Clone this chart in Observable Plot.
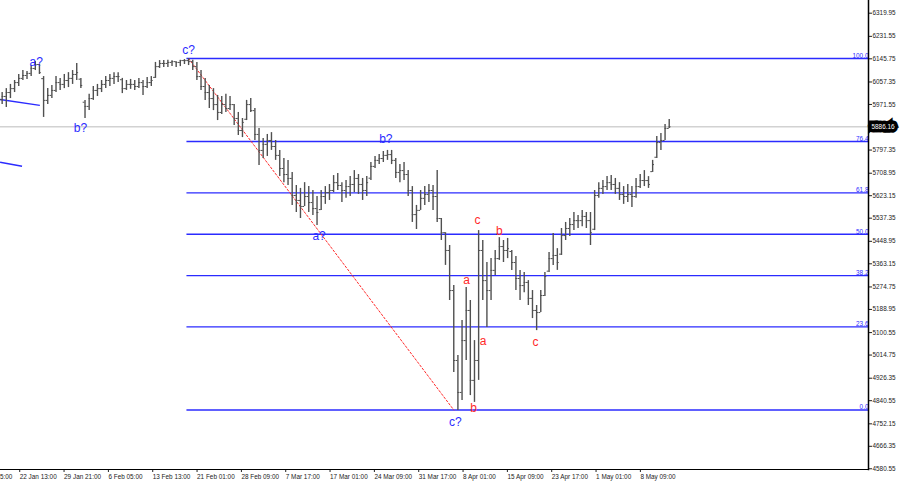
<!DOCTYPE html>
<html>
<head>
<meta charset="utf-8">
<script src="https://cdn.jsdelivr.net/npm/d3@7"></script>
<script src="https://cdn.jsdelivr.net/npm/@observablehq/plot@0.6"></script>
<style>
  html, body { margin: 0; padding: 0; background: #fff; overflow: hidden; }
  #chart svg { display: block; }
</style>
</head>
<body>
<div id="chart"></div>
<script>
// ---- OHLC bars (each bar = 12 trading hours) ----
const barOpen = [5990,6002,6017,6032,6055,6071,6082,6090,6109,6124,
6070,5987,6006,6025,6055,6048,6063,6071,6086,6068,
5980,5964,5994,6025,6032,6048,6063,6071,6078,6066,
6032,6048,6048,6040,6055,6040,6055,6075,6116,6128,
6128,6132,6135,6132,6139,6139,6135,6116,6078,6040,
6017,5994,5971,5941,5971,5956,5971,5918,5872,5915,
5971,5948,5857,5796,5819,5834,5811,5777,5727,5704,
5689,5624,5605,5582,5620,5597,5574,5570,5620,5635,
5643,5673,5662,5643,5658,5666,5689,5666,5643,5690,
5735,5758,5765,5777,5780,5758,5712,5719,5704,5643,
5551,5567,5613,5628,5643,5620,5536,5482,5414,5261,
4994,4872,5070,5185,4918,4994,5414,5299,5261,5338,
5383,5429,5414,5410,5368,5307,5280,5292,5231,5185,
5177,5242,5335,5383,5395,5400,5471,5498,5513,5528,
5528,5544,5528,5495,5624,5651,5658,5673,5666,5651,
5628,5620,5628,5620,5658,5681,5681,5715,5770,5826,
5834,5880];
const barHigh = [6017,6032,6048,6063,6086,6101,6097,6120,6135,6124,
6078,6032,6044,6078,6071,6086,6093,6101,6128,6071,
5987,6010,6040,6048,6063,6078,6086,6093,6093,6071,
6063,6067,6063,6071,6063,6074,6078,6132,6139,6139,
6140,6138,6135,6140,6143,6147,6140,6132,6101,6071,
6044,6032,6006,6002,6010,6002,5971,5941,5918,5987,
5994,5956,5880,5842,5857,5864,5834,5796,5765,5758,
5712,5662,5651,5673,5658,5643,5620,5643,5658,5666,
5700,5708,5673,5681,5696,5719,5704,5689,5696,5750,
5773,5780,5792,5796,5796,5765,5742,5750,5719,5658,
5586,5643,5658,5666,5662,5719,5536,5482,5433,5280,
5013,5147,5273,5223,5070,5490,5452,5368,5383,5414,
5463,5452,5460,5414,5391,5338,5330,5299,5261,5204,
5261,5330,5406,5479,5421,5498,5521,5536,5559,5548,
5567,5559,5559,5643,5673,5681,5696,5700,5689,5673,
5658,5666,5658,5689,5704,5719,5696,5758,5849,5861,
5895,5914];
const barLow = [5971,5960,5994,6017,6040,6063,6067,6078,6101,6086,
5922,5971,5994,6017,6025,6032,6036,6048,6063,6032,
5918,5948,5987,6002,6017,6032,6040,6048,6055,6013,
6025,6029,6025,6032,6006,6032,6040,6071,6109,6113,
6113,6116,6113,6116,6124,6120,6101,6063,6025,5987,
5956,5948,5910,5933,5941,5948,5891,5853,5845,5910,
5941,5834,5738,5765,5773,5796,5758,5696,5673,5662,
5586,5559,5536,5582,5559,5548,5509,5567,5590,5605,
5635,5643,5597,5613,5620,5635,5628,5605,5620,5681,
5727,5742,5750,5758,5742,5689,5673,5681,5620,5521,
5494,5567,5586,5597,5567,5521,5452,5357,5223,4948,
4803,4841,4994,4860,4834,4918,5223,5120,5223,5318,
5376,5368,5383,5338,5261,5223,5253,5204,5154,5108,
5177,5238,5330,5357,5338,5395,5452,5467,5490,5498,
5505,5498,5433,5490,5613,5628,5643,5643,5628,5605,
5590,5597,5578,5613,5651,5658,5651,5712,5765,5796,
5834,5880];
const barClose = [6002,6017,6032,6055,6071,6082,6090,6109,6124,6093,
5987,6006,6025,6055,6048,6063,6071,6086,6093,6044,
5964,5994,6025,6032,6048,6063,6071,6078,6078,6032,
6048,6048,6040,6055,6040,6055,6063,6116,6128,6128,
6132,6135,6132,6139,6139,6135,6116,6078,6040,6017,
5994,5971,5941,5971,5956,5971,5918,5872,5903,5971,
5948,5857,5796,5819,5834,5811,5777,5727,5704,5689,
5624,5605,5582,5620,5597,5574,5559,5620,5635,5643,
5673,5662,5643,5658,5666,5689,5666,5643,5673,5735,
5758,5765,5777,5780,5758,5712,5719,5704,5643,5551,
5567,5613,5628,5643,5620,5536,5482,5414,5261,4994,
4872,5070,5185,4918,4994,5414,5299,5261,5338,5383,
5429,5414,5421,5368,5307,5280,5292,5231,5185,5177,
5242,5315,5383,5395,5368,5471,5498,5513,5528,5528,
5544,5528,5482,5624,5651,5658,5673,5666,5651,5628,
5620,5628,5620,5658,5681,5681,5666,5742,5826,5834,
5880,5886.16];

// ---- axes ----
const xTickIdx = [-6.7, 4.0, 14.7, 25.4, 36.1, 46.8, 57.5, 68.2, 78.9, 89.6, 100.3, 111.0, 121.7, 132.4, 143.1, 153.8];
const xTickLabels = ["15 Jan 05:00","22 Jan 13:00","29 Jan 21:00","6 Feb 05:00","13 Feb 13:00","21 Feb 01:00","28 Feb 09:00","7 Mar 17:00","17 Mar 01:00","24 Mar 09:00","31 Mar 17:00","8 Apr 01:00","15 Apr 09:00","23 Apr 17:00","1 May 01:00","8 May 09:00"];
const yTicks = [6319.95, 6231.55, 6145.75, 6057.35, 5971.55, 5797.35, 5708.95, 5623.15, 5537.35, 5448.95, 5363.15, 5274.75, 5188.95, 5100.55, 5014.75, 4926.35, 4840.55, 4752.15, 4666.35, 4580.55];

// ---- Fibonacci grid ----
const fibPct = ["0.0", "23.6", "38.2", "50.0", "61.8", "76.4", "100.0"];
const fibPrice = [4805, 5122, 5318, 5476, 5634, 5830, 6147];
const fibStartIdx = 44.6;

// ---- red dotted line (c? top to c? bottom) ----
const dotIdx = [45, 109];
const dotPrice = [6147, 4805];

// ---- old blue trendlines at the left edge ----
const trendX1 = [-0.5, -0.5];
const trendY1 = [5990, 5751];
const trendX2 = [9.1, 4.8];
const trendY2 = [5968, 5736];

// ---- wave labels ----
const blueText = ["a?", "b?", "c?", "a?", "b?", "c?"];
const blueIdx = [8.2, 18.9, 45.0, 76.5, 92.6, 109.4];
const bluePrice = [6132, 5880, 6177, 5467, 5838, 4757];
const redText = ["c", "b", "a", "a", "b", "c"];
const redIdx = [114.7, 120.0, 112.1, 116.1, 113.8, 128.7];
const redPrice = [5530, 5486, 5299, 5068, 4811, 5063];

const lastPrice = 5886.16;

const xDomain = [-0.4, 209.1];
const yDomain = [4577.8, 6368.4];
const BLUE = "#2b2bff";
const RED = "#ff2a2a";
const BAR = "#505050";

const bars = barClose.map((c, i) => ({i, o: barOpen[i], h: barHigh[i], l: barLow[i], c}));
const fibRows = fibPrice.map((p, k) => ({p, t: fibPct[k]}));
const trends = trendX1.map((x, k) => ({x1: x, y1: trendY1[k], x2: trendX2[k], y2: trendY2[k]}));
const dotRows = dotIdx.map((x, k) => ({x, y: dotPrice[k]}));
const blueRows = blueText.map((t, k) => ({t, x: blueIdx[k], y: bluePrice[k]}));
const redRows = redText.map((t, k) => ({t, x: redIdx[k], y: redPrice[k]}));

const chart = Plot.plot({
  width: 900,
  height: 485,
  marginTop: 0,
  marginLeft: 0,
  marginRight: 32,
  marginBottom: 16,
  style: {fontFamily: "'Liberation Sans', Arial, sans-serif", fontSize: "6.4px", background: "#fff", color: "#222"},
  x: {domain: xDomain, axis: null},
  y: {domain: yDomain, axis: null},
  marks: [
    Plot.ruleY([lastPrice], {stroke: "#d2d2d2", strokeWidth: 1.6}),
    Plot.ruleY(fibRows, {y: "p", x1: fibStartIdx, x2: xDomain[1], stroke: BLUE, strokeWidth: 1.3}),
    Plot.text(fibRows, {x: xDomain[1], y: "p", text: "t", textAnchor: "end", lineAnchor: "bottom", dy: -0.6, fill: BLUE, fontSize: 6.4}),
    Plot.line(dotRows, {x: "x", y: "y", stroke: RED, strokeWidth: 1, strokeDasharray: "2,2"}),
    Plot.link(trends, {x1: "x1", y1: "y1", x2: "x2", y2: "y2", stroke: BLUE, strokeWidth: 1.5}),
    Plot.ruleX(bars, {x: "i", y1: "l", y2: "h", stroke: BAR, strokeWidth: 1.4}),
    Plot.ruleY(bars, {y: "o", x1: d => d.i - 0.45, x2: "i", stroke: BAR, strokeWidth: 1}),
    Plot.ruleY(bars, {y: "c", x1: "i", x2: d => d.i + 0.45, stroke: BAR, strokeWidth: 1}),
    Plot.text(blueRows, {x: "x", y: "y", text: "t", fill: BLUE, fontSize: 12}),
    Plot.text(redRows, {x: "x", y: "y", text: "t", fill: RED, fontSize: 12}),
    Plot.axisY(yTicks, {anchor: "right", tickSize: 3, tickPadding: 1, tickFormat: d => d.toFixed(2), fontSize: 6.4, fill: "#222"}),
    Plot.axisX(xTickIdx, {anchor: "bottom", tickSize: 3, tickPadding: 2, tickFormat: d => xTickLabels[xTickIdx.indexOf(d)], textAnchor: "start", dx: 1, fontSize: 6.4, fill: "#222"}),
    Plot.frame({anchor: "bottom", stroke: "#000"}),
    Plot.frame({anchor: "right", stroke: "#000", strokeWidth: 1.5}),
    // current price tag on the right axis
    Plot.text([lastPrice], {x: xDomain[1], y: d => d, text: d => d.toFixed(2), textAnchor: "start", dx: 3, fill: "#000", stroke: "#000", strokeWidth: 7, strokeLinejoin: "miter", fontSize: 6.4}),
    Plot.text([lastPrice], {x: xDomain[1], y: d => d, text: d => d.toFixed(2), textAnchor: "start", dx: 3, fill: "#fff", fontSize: 6.4})
  ]
});
document.getElementById("chart").appendChild(chart);
</script>
</body>
</html>
